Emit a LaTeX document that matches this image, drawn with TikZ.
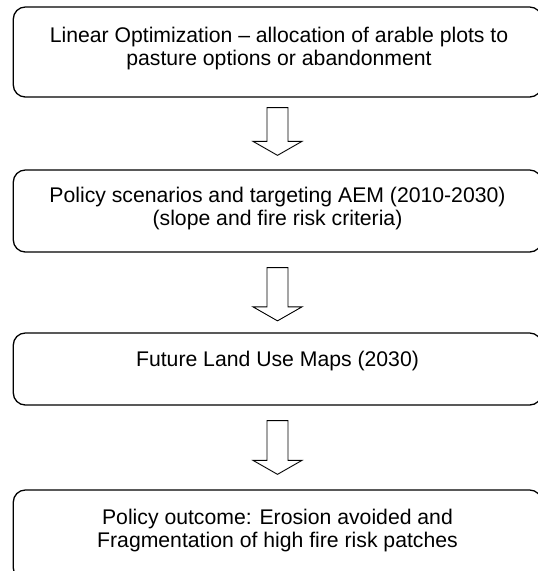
\documentclass[tikz,border=0pt]{standalone}
\usepackage{fontspec}
\setmainfont{Liberation Sans}
\usetikzlibrary{calc}

% hollow block arrow pointing down, from a top coordinate to a tip coordinate
\newcommand\hollowdown[2]{%
  \draw[blockarrow]
    ($(#1)+(-10.5,0)$) -- ($(#1)+(10.5,0)$) -- ($(#2)+(10.5,-14)$) --
    ($(#2)+(24.5,-14)$) -- (#2) -- ($(#2)+(-24.5,-14)$) --
    ($(#2)+(-10.5,-14)$) -- cycle;}

\begin{document}
\begin{tikzpicture}[x=1pt, y=-1pt,
  stage/.style={draw, line width=1.3pt, rounded corners=12pt,
    minimum width=528.4pt, inner sep=0pt},
  caption/.style={font=\fontsize{21.2}{23.4}\selectfont, anchor=base, inner sep=0pt},
  blockarrow/.style={draw, line width=0.9pt, fill=white, line join=miter}]
\useasboundingbox (0,0) rectangle (538,571);
\clip (0,0) rectangle (538,571);

% process stages
\node[stage, minimum height=90pt] (b1) at (277.5,52) {};
\node[stage, minimum height=82pt] (b2) at (277.5,211) {};
\node[stage, minimum height=72pt] (b3) at (277.5,369) {};
\node[stage, minimum height=90pt] (b4) at (277.5,535) {};

% stage texts
\node[caption] (t1a) at (279,42.5) {Linear Optimization -- allocation of arable plots to};
\node[caption] (t1b) at (279,65.8) {pasture options or abandonment};
\node[caption] (t2a) at (277.5,202) {Policy scenarios and targeting AEM (2010-2030)};
\node[caption] (t2b) at (277.5,225.3) {(slope and fire risk criteria)};
\node[caption] (t3a) at (277.5,366) {Future Land Use Maps (2030)};
\node[caption] (t4a) at (277.5,524) {Policy outcome: Erosion avoided and};
\node[caption] (t4b) at (277.5,547.3) {Fragmentation of high fire risk patches};

% arrow end points between the stages
\coordinate (a1top) at ($(b1.south)+(0,10)$);
\coordinate (a1tip) at ($(b2.north)+(0,-14)$);
\coordinate (a2top) at ($(b2.south)+(0,15)$);
\coordinate (a2tip) at ($(b3.north)+(0,-11.5)$);
\coordinate (a3top) at ($(b3.south)+(0,15)$);
\coordinate (a3tip) at ($(b4.north)+(0,-15)$);

\hollowdown{a1top}{a1tip}
\hollowdown{a2top}{a2tip}
\hollowdown{a3top}{a3tip}
\end{tikzpicture}
\end{document}
